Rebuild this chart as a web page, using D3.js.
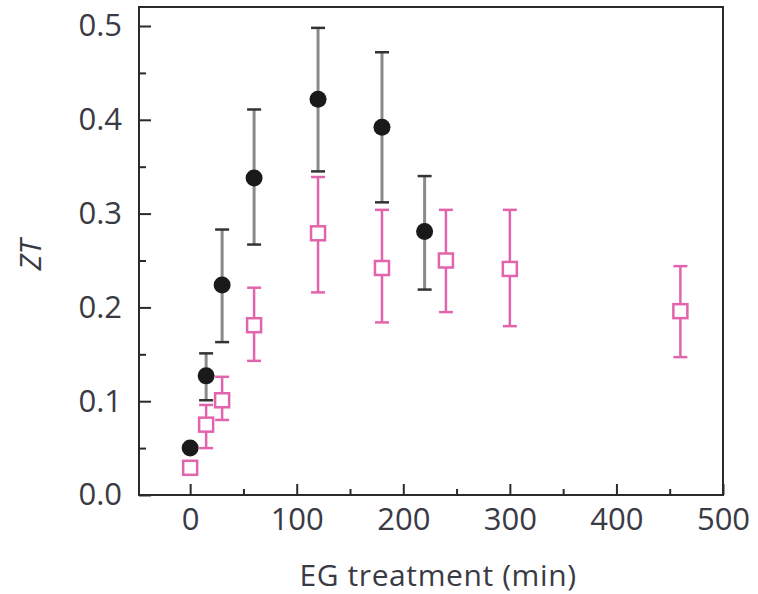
<!DOCTYPE html>
<html><head><meta charset="utf-8">
<script src="https://cdn.jsdelivr.net/npm/d3@7"></script>
<style>body{margin:0;background:#fff}text{font-family:"Open Sans","Noto Sans",sans-serif;fill:#3a3a44}</style>
</head><body><svg id="c" width="758" height="594"></svg>
<script>
// Black circles series
const blackX = [0, 15, 30, 60, 120, 180, 220];
const blackY = [0.050, 0.127, 0.224, 0.338, 0.422, 0.392, 0.281];
const blackLo = [null, 0.101, 0.163, 0.267, 0.345, 0.312, 0.219];
const blackHi = [null, 0.151, 0.283, 0.411, 0.498, 0.472, 0.340];
// Pink squares series
const pinkX = [0, 15, 30, 60, 120, 180, 240, 300, 460];
const pinkY = [0.029, 0.075, 0.101, 0.181, 0.279, 0.242, 0.250, 0.241, 0.196];
const pinkLo = [null, 0.050, 0.080, 0.143, 0.216, 0.184, 0.195, 0.180, 0.147];
const pinkHi = [null, 0.096, 0.126, 0.221, 0.339, 0.304, 0.304, 0.304, 0.244];
const xTicks = [0, 100, 200, 300, 400, 500];
const xMinor = [50, 150, 250, 350, 450];
const yTicks = [0.0, 0.1, 0.2, 0.3, 0.4, 0.5];
const yMinor = [0.05, 0.15, 0.25, 0.35, 0.45];

const svg = d3.select("#c");
const L = 139, R = 723, T = 7, B = 495;
const x = d3.scaleLinear().domain([-48, 500]).range([L, R]);
const y = d3.scaleLinear().domain([0, 0.5]).range([B, 26]);

const pink = "#e264ac";
const fs = "31px";
const g = svg.append("g");

// frame
g.append("rect").attr("x", L).attr("y", T).attr("width", R - L).attr("height", B - T)
  .attr("fill", "none").attr("stroke", "#2a2a2a").attr("stroke-width", 2);

// x axis ticks (inward)
const xa = d3.axisBottom(x).tickValues(xTicks).tickSizeInner(-11).tickSizeOuter(0).tickPadding(13).tickFormat(d3.format("d"));
const gx = g.append("g").attr("transform", `translate(0,${B})`).call(xa);
gx.select(".domain").remove();
gx.selectAll("line").attr("stroke", "#2a2a2a").attr("stroke-width", 2);
gx.selectAll("text").style("font-size", fs).attr("fill", "#3a3a44");
const xm = d3.axisBottom(x).tickValues(xMinor).tickSizeInner(-6).tickSizeOuter(0).tickFormat("");
const gxm = g.append("g").attr("transform", `translate(0,${B})`).call(xm);
gxm.select(".domain").remove();
gxm.selectAll("line").attr("stroke", "#2a2a2a").attr("stroke-width", 2);

// y axis
const ya = d3.axisLeft(y).tickValues(yTicks).tickSizeInner(-12).tickSizeOuter(0).tickPadding(17).tickFormat(d3.format(".1f"));
const gy = g.append("g").attr("transform", `translate(${L},0)`).call(ya);
gy.select(".domain").remove();
gy.selectAll("line").attr("stroke", "#2a2a2a").attr("stroke-width", 2);
gy.selectAll("text").style("font-size", fs).attr("fill", "#3a3a44");
const ym = d3.axisLeft(y).tickValues(yMinor).tickSizeInner(-7).tickSizeOuter(0).tickFormat("");
const gym = g.append("g").attr("transform", `translate(${L},0)`).call(ym);
gym.select(".domain").remove();
gym.selectAll("line").attr("stroke", "#2a2a2a").attr("stroke-width", 2);

// labels
svg.append("text").attr("x", 438).attr("y", 586).attr("text-anchor", "middle")
  .style("font-size", "30px").style("letter-spacing", "0.6px").text("EG treatment (min)");
svg.append("text").attr("transform", "translate(41,255) rotate(-90)").attr("text-anchor", "middle")
  .style("font-size", "30px").style("font-style", "italic").text("ZT");

const cap = 7;
// black error bars
blackX.forEach((v, i) => {
  if (blackLo[i] == null) return;
  const cx = x(v);
  g.append("line").attr("x1", cx).attr("x2", cx).attr("y1", y(blackLo[i])).attr("y2", y(blackHi[i]))
    .attr("stroke", "#8a8a8a").attr("stroke-width", 3);
  [blackLo[i], blackHi[i]].forEach(e => g.append("line").attr("x1", cx - cap).attr("x2", cx + cap)
    .attr("y1", y(e)).attr("y2", y(e)).attr("stroke", "#333").attr("stroke-width", 2.5));
});
// pink error bars
pinkX.forEach((v, i) => {
  if (pinkLo[i] == null) return;
  const cx = x(v);
  g.append("line").attr("x1", cx).attr("x2", cx).attr("y1", y(pinkLo[i])).attr("y2", y(pinkHi[i]))
    .attr("stroke", pink).attr("stroke-width", 2.5);
  [pinkLo[i], pinkHi[i]].forEach(e => g.append("line").attr("x1", cx - cap).attr("x2", cx + cap)
    .attr("y1", y(e)).attr("y2", y(e)).attr("stroke", pink).attr("stroke-width", 2.5));
});
// markers
g.selectAll("circle.b").data(blackX).join("circle")
  .attr("cx", d => x(d)).attr("cy", (d, i) => y(blackY[i])).attr("r", 8.5).attr("fill", "#1a1a1a");
g.selectAll("rect.p").data(pinkX).join("rect")
  .attr("x", d => x(d) - 7).attr("y", (d, i) => y(pinkY[i]) - 7).attr("width", 14).attr("height", 14)
  .attr("fill", "#fff").attr("stroke", pink).attr("stroke-width", 2.5);
</script></body></html>
